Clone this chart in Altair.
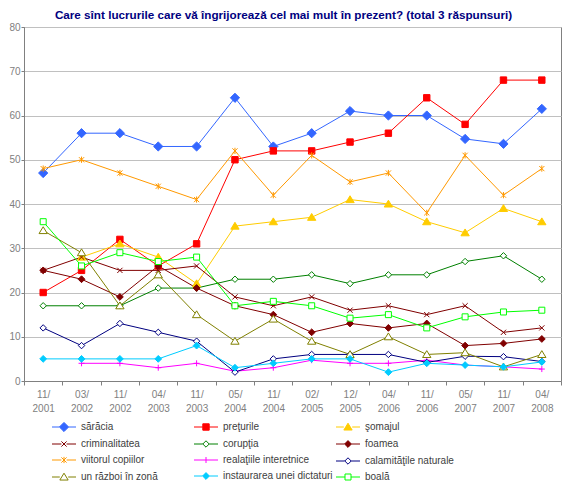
import altair as alt
import pandas as pd

periods = ["11/2001", "03/2002", "11/2002", "04/2003", "11/2003", "05/2004", "11/2004",
           "02/2005", "12/2005", "04/2006", "11/2006", "05/2007", "11/2007", "04/2008"]

saracia = [47, 56, 56, 53, 53, 64, 53, 56, 61, 60, 60, 54.7, 53.6, 61.5]
preturile = [20, 25, 32, 26, 31, 50, 52, 52, 54, 56, 64, 58, 68, 68]
somajul = [None, 28, 31, 28, 22, 35, 36, 37, 41, 40, 36, 33.5, 39, 36]
criminalitatea = [25, 28, 25, 25, 26, 19, 17, 19, 16, 17, 15, 17, 11, 12]
coruptia = [17, 17, 17, 21, 21, 23, 23, 24, 22, 24, 24, 27, 28.3, 23]
foamea = [25, 23, 19, 26, 21, 17, 15, 11, 13, 12, 13, 8, 8.5, 9.5]
viitorul = [48, 50, 47, 44, 41, 52, 42, 51, 45, 47, 38, 51, 42, 48]
relatiile = [None, 4, 4, 3, 4, 2.2, 3, 4.7, 4, 4, 4.7, 3.6, 3.2, 2.7]
calamitatile = [12, 8, 13, 11, 9, 2, 5, 6, 6, 6, 4.2, 5.6, 5.5, 4.4]
razboi = [34, 29, 17, 24, 15, 9, 14, 9, 6, 10, 6, 6.4, 3.2, 6]
dictaturi = [5, 5, 5, 5, 8, 3, 4, 5, 5, 2, 4, 3.6, 3.2, 4.3]
boala = [36, 26, 29, 27, 28, 17, 18, 17, 14.2, 15, 12, 14.5, 15.6, 16]

series_names = ["sărăcia", "preţurile", "şomajul", "criminalitatea", "corupţia", "foamea",
                "viitorul copiilor", "realaţiile interetnice", "calamităţile naturale",
                "un război în zonă", "instaurarea unei dictaturi", "boală"]
series_values = [saracia, preturile, somajul, criminalitatea, coruptia, foamea,
                 viitorul, relatiile, calamitatile, razboi, dictaturi, boala]

colors = ["#3366FF", "#FF0000", "#FFCC00", "#800000", "#008000", "#800000",
          "#FF9900", "#FF00FF", "#000080", "#808000", "#00CCFF", "#00FF00"]
fills = ["#3366FF", "#FF0000", "#FFCC00", "#FFFFFF", "#FFFFFF", "#800000",
         "#FFFFFF", "#FFFFFF", "#FFFFFF", "#FFFFFF", "#00CCFF", "#FFFFFF"]


def diamond(d):
    return f"M0,-{d}L{d},0L0,{d}L-{d},0Z"


def square(d):
    return f"M-{d},-{d}H{d}V{d}H-{d}Z"


def triangle(d):
    return f"M0,-{d}L{d * 1.1:.2f},{d * 0.8:.2f}L-{d * 1.1:.2f},{d * 0.8:.2f}Z"


def cross_x(d):
    return f"M-{d},-{d}L{d},{d}M-{d},{d}L{d},-{d}"


def asterisk(d):
    return f"M-{d},-{d}L{d},{d}M-{d},{d}L{d},-{d}M0,-{d * 1.2:.2f}V{d * 1.2:.2f}"


def plus(d):
    return f"M-{d},0H{d}M0,-{d}V{d}"


markers = [
    (diamond(1.15), 1.15), (square(0.8), 0.8), (triangle(0.95), 1.05),
    (cross_x(0.65), 0.65), (diamond(0.8), 0.8), (diamond(0.85), 0.85),
    (asterisk(0.65), 0.65), (plus(0.75), 0.75), (diamond(0.8), 0.8),
    (triangle(0.95), 1.05), (diamond(0.85), 0.85), (square(0.75), 0.75),
]
marker_paths = [m[0] for m in markers]
legend_paths = [f"M-3,0H-{a}M{a},0H3" + p for p, a in markers]

rows = []
for name, vals in zip(series_names, series_values):
    for per, v in zip(periods, vals):
        if v is not None:
            rows.append({"period": per, "series": name, "value": v})
df = pd.DataFrame(rows)

FONT = "Liberation Sans"
GRAY = "#808080"

x_enc = alt.X(
    "period:N", sort=periods,
    scale=alt.Scale(type="band", domain=periods, paddingInner=0, paddingOuter=0),
    axis=alt.Axis(title=None, labelAngle=0, tickBand="extent", tickSize=4,
                  labelExpr="[slice(datum.label,0,3), slice(datum.label,3)]",
                  labelLineHeight=14, labelPadding=4, labelBaseline="top",
                  grid=False),
)
y_enc = alt.Y(
    "value:Q",
    scale=alt.Scale(domain=[0, 80], nice=False, zero=True),
    axis=alt.Axis(title=None, values=list(range(0, 81, 10)), tickSize=3,
                  labelPadding=1, grid=True),
)

base = alt.Chart(df)

lines = base.mark_line(strokeWidth=1).encode(
    x=x_enc, y=y_enc,
    color=alt.Color("series:N", scale=alt.Scale(domain=series_names, range=colors), legend=None),
)

points = base.mark_point(filled=True, opacity=1, size=64, strokeWidth=1).encode(
    x=x_enc, y=y_enc,
    shape=alt.Shape("series:N", scale=alt.Scale(domain=series_names, range=marker_paths), legend=None),
    stroke=alt.Stroke("series:N", scale=alt.Scale(domain=series_names, range=colors), legend=None),
    fill=alt.Fill("series:N", scale=alt.Scale(domain=series_names, range=fills), legend=None),
)


def legend_column(col, lx):
    idx = [i for i in range(len(series_names)) if i % 3 == col]
    names = [series_names[i] for i in idx]
    leg = alt.Legend(
        title=None, orient="none", legendX=lx, legendY=395, columns=1,
        rowPadding=5, symbolSize=64, symbolStrokeWidth=1,
        labelFont=FONT, labelFontSize=10, labelColor="#404040", labelOffset=12,
        padding=0, labelLimit=200,
    )
    return alt.Chart(pd.DataFrame({"series": names})).mark_point(
        filled=True, opacity=1, size=64, strokeWidth=1, clip=True
    ).encode(
        x=alt.value(300), y=alt.value(3000),
        shape=alt.Shape("series:N", scale=alt.Scale(domain=names, range=[legend_paths[i] for i in idx]), legend=leg),
        stroke=alt.Stroke("series:N", scale=alt.Scale(domain=names, range=[colors[i] for i in idx]), legend=leg),
        fill=alt.Fill("series:N", scale=alt.Scale(domain=names, range=[fills[i] for i in idx]), legend=leg),
    )


leg_layers = [legend_column(0, 35), legend_column(1, 177), legend_column(2, 319)]

chart = alt.layer(lines, points, *leg_layers).resolve_scale(
    color="independent", shape="independent", stroke="independent", fill="independent"
).properties(
    width=537, height=354,
    padding={"left": 16, "top": 19, "right": 1, "bottom": 101},
    autosize=alt.AutoSizeParams(type="none"),
    title=alt.TitleParams(
        "Care sînt lucrurile care vă îngrijorează cel mai mult în prezent? (total 3 răspunsuri)",
        font=FONT, fontSize=11.7, fontWeight="bold", color="#000080",
        anchor="middle", frame="group", offset=0.5, dx=-9,
    ),
).configure_view(
    stroke=GRAY, strokeWidth=1
).configure_axis(
    labelFont=FONT, labelFontSize=10, labelColor=GRAY,
    domainColor=GRAY, tickColor=GRAY, gridColor="#C0C0C0",
)

chart.save("out.html", embed_options={"renderer": "svg", "actions": False})
